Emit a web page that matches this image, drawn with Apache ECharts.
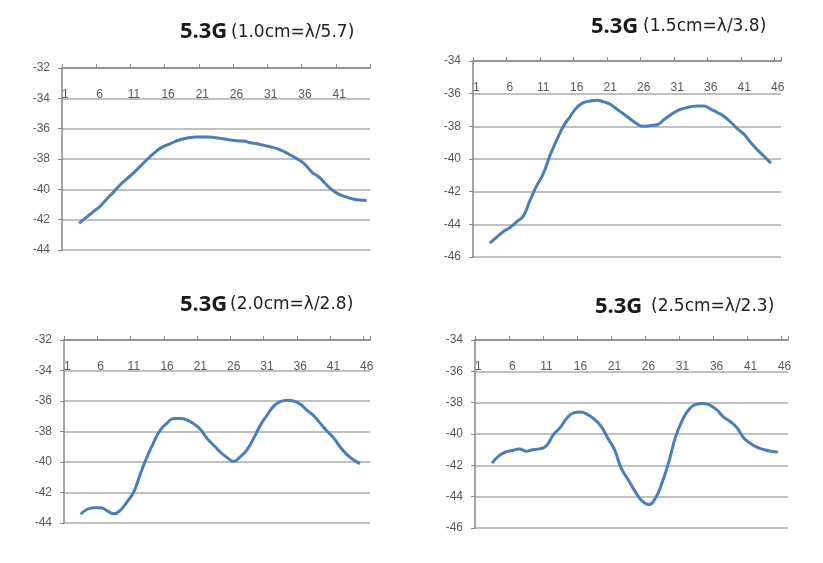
<!DOCTYPE html>
<html><head><meta charset="utf-8">
<script src="https://cdn.jsdelivr.net/npm/echarts@6/dist/echarts.min.js"></script>
<style>html,body{margin:0;padding:0;background:#fff}#c{width:823px;height:563px}</style>
</head><body><div id="c"></div>
<script>
// x categories (tick labels)
const categories45 = ['1','2','3','4','5','6','7','8','9','10','11','12','13','14','15','16','17','18','19','20','21','22','23','24','25','26','27','28','29','30','31','32','33','34','35','36','37','38','39','40','41','42','43','44','45'];
const categories46 = ['1','2','3','4','5','6','7','8','9','10','11','12','13','14','15','16','17','18','19','20','21','22','23','24','25','26','27','28','29','30','31','32','33','34','35','36','37','38','39','40','41','42','43','44','45','46'];

// titles
const titleBold = ['5.3G', '5.3G', '5.3G', '5.3G'];
const titleNote = ['(1.0cm=λ/5.7)', '(1.5cm=λ/3.8)', '(2.0cm=λ/2.8)', '(2.5cm=λ/2.3)'];

// y ranges
const yMin = [-44, -46, -44, -46];
const yMax = [-32, -34, -32, -34];

// series values (categories 1..N; null = no value)
const data10 = [null, null, -42.24,-41.87,-41.5,-41.15,-40.65,-40.2,-39.7,-39.3,-38.9,-38.45,-38.0,-37.6,-37.25,-37.05,-36.85,-36.7,-36.6,-36.55,-36.55,-36.55,-36.6,-36.67,-36.74,-36.8,-36.82,-36.93,-37.0,-37.1,-37.2,-37.33,-37.53,-37.77,-38.03,-38.36,-38.86,-39.17,-39.63,-40.05,-40.33,-40.5,-40.64,-40.7,-40.73];
const data15 = [null, null, -45.15,-44.8,-44.45,-44.2,-43.85,-43.5,-42.55,-41.65,-40.9,-39.78,-38.85,-38.0,-37.4,-36.85,-36.55,-36.45,-36.4,-36.5,-36.65,-36.95,-37.25,-37.55,-37.85,-38.0,-37.95,-37.9,-37.6,-37.3,-37.05,-36.9,-36.8,-36.75,-36.75,-36.95,-37.15,-37.4,-37.75,-38.15,-38.5,-39.0,-39.45,-39.85,-40.25, null];
const data20 = [null, null, -43.43,-43.1,-43.0,-43.0,-43.2,-43.4,-43.15,-42.6,-41.95,-40.75,-39.65,-38.7,-37.9,-37.45,-37.15,-37.15,-37.25,-37.5,-37.85,-38.45,-38.9,-39.35,-39.7,-39.95,-39.65,-39.2,-38.45,-37.6,-36.95,-36.35,-36.05,-35.95,-36.0,-36.2,-36.6,-36.95,-37.45,-37.95,-38.4,-39.0,-39.5,-39.85,-40.1, null];
const data25 = [null, null, -41.86,-41.4,-41.15,-41.05,-40.95,-41.1,-41.0,-40.95,-40.75,-40.05,-39.6,-39.0,-38.65,-38.6,-38.75,-39.05,-39.5,-40.25,-41.0,-42.2,-42.9,-43.65,-44.25,-44.5,-44.1,-43.1,-41.75,-40.15,-39.1,-38.4,-38.1,-38.05,-38.15,-38.45,-38.9,-39.2,-39.6,-40.25,-40.6,-40.85,-41.0,-41.1,-41.15, null];

const allCats = [categories45, categories46, categories46, categories46];
const allData = [data10, data15, data20, data25];

const grids = [
  {left: 62, top: 68, width: 308, height: 182},
  {left: 473, top: 61, width: 308, height: 196},
  {left: 64, top: 340, width: 306, height: 183},
  {left: 475, top: 340, width: 313, height: 188}
];
const titlePos = [
  {b: [180, 21], n: [231, 24]},
  {b: [591, 16], n: [643, 18]},
  {b: [180, 294], n: [230, 296]},
  {b: [595, 296], n: [651, 298]}
];

const axisColor = '#868686';
const gridColor = '#ababab';
const labelStyle = {color: '#595959', fontSize: 12, fontFamily: 'Liberation Sans'};

const titles = [], xAxes = [], yAxes = [], series = [];
for (let i = 0; i < 4; i++) {
  titles.push({text: titleBold[i], left: titlePos[i].b[0], top: titlePos[i].b[1], padding: 0,
    textStyle: {fontFamily: 'Noto Sans', fontWeight: 'bold', fontSize: 22, color: '#1a1a1a'}});
  titles.push({text: titleNote[i], left: titlePos[i].n[0], top: titlePos[i].n[1], padding: 0,
    textStyle: {fontFamily: 'DejaVu Sans', fontWeight: 'normal', fontSize: 17, color: '#222'}});
  xAxes.push({
    gridIndex: i, type: 'category', position: 'top', data: allCats[i], boundaryGap: true,
    axisLine: {show: true, lineStyle: {color: axisColor, width: 1.5}},
    axisTick: {show: true, interval: 4, length: 4, lineStyle: {color: axisColor, width: 1}},
    axisLabel: Object.assign({inside: true, interval: 4, margin: 21}, labelStyle),
    splitLine: {show: false}
  });
  yAxes.push({
    gridIndex: i, type: 'value', min: yMin[i], max: yMax[i], interval: 2,
    axisLine: {show: true, lineStyle: {color: axisColor, width: 1.5}},
    axisTick: {show: true, length: 4, lineStyle: {color: axisColor}},
    axisLabel: Object.assign({margin: 12}, labelStyle),
    splitLine: {show: true, lineStyle: {color: gridColor, width: 1.5}}
  });
  series.push({
    type: 'line', xAxisIndex: i, yAxisIndex: i, data: allData[i],
    smooth: 0.5, symbol: 'none', connectNulls: false,
    lineStyle: {color: '#4a7ebb', width: 3}
  });
}

const chart = echarts.init(document.getElementById('c'), null, {renderer: 'canvas'});
chart.setOption({
  animation: false,
  backgroundColor: '#fff',
  title: titles,
  grid: grids.map(g => Object.assign({containLabel: false}, g)),
  xAxis: xAxes,
  yAxis: yAxes,
  series: series
});
</script>
</body></html>
